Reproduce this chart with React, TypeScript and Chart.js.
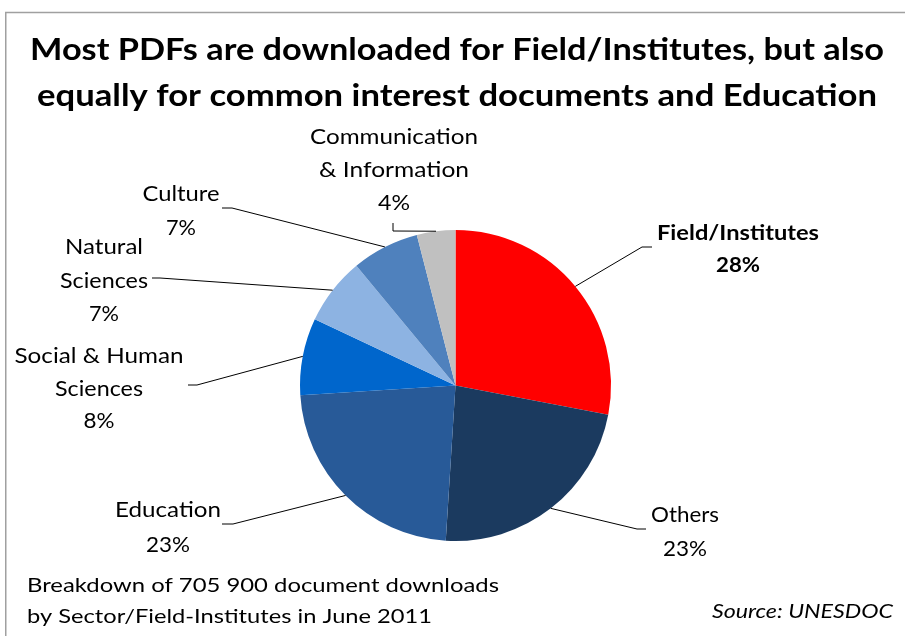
import React, { useEffect, useRef } from "react";
import { Chart, registerables } from "chart.js";

Chart.register(...registerables);

const categories = [
  "Field/Institutes",
  "Others",
  "Education",
  "Social & Human Sciences",
  "Natural Sciences",
  "Culture",
  "Communication & Information",
];
const shares = [28, 23, 23, 8, 7, 7, 4];
const sliceColors = ["#ff0000", "#1b3a5f", "#285a98", "#0066cc", "#8db3e2", "#4f81bd", "#c0c0c0"];

const titleLines = [
  "Most PDFs are downloaded for Field/Institutes, but also",
  "equally for common interest documents and Education",
];
const noteLines = [
  "Breakdown of 705 900 document downloads",
  "by Sector/Field-Institutes in June 2011",
];
const sourceText = "Source: UNESDOC";

// label text lines per slice (name lines + percent)
const labelNameLines = [
  ["Field/Institutes"],
  ["Others"],
  ["Education"],
  ["Social & Human", "Sciences"],
  ["Natural", "Sciences"],
  ["Culture"],
  ["Communication", "& Information"],
];

// layout of labels (positions only)
const labelLayout = [
  { cx: 738, ys: [233, 265], widths: [162, 44], bold: true, leader: [[652, 247], [642, 247]] },
  { cx: 685, ys: [515, 549], widths: [68, 44], bold: false, leader: [[646, 529], [637, 529]] },
  { cx: 168, ys: [510, 545], widths: [106, 44], bold: false, leader: [[222, 524], [233, 524]] },
  { cx: 99, ys: [356, 389, 421], widths: [169, 88, 31], bold: false, leader: [[188, 385], [197, 385]] },
  { cx: 104, ys: [247, 281, 314], widths: [78, 88, 30], bold: false, leader: [[152, 278], [160, 278]] },
  { cx: 181, ys: [194, 228], widths: [77, 30], bold: false, leader: [[222, 208], [232, 208]] },
  { cx: 394, ys: [137, 170, 203], widths: [168, 150, 32], bold: false, leader: [[393, 223], [393, 231]] },
];

function fitText(ctx: CanvasRenderingContext2D, text: string, x: number, y: number, targetW: number) {
  const w = ctx.measureText(text).width;
  const s = w > 0 ? targetW / w : 1;
  ctx.save();
  ctx.translate(x, y);
  ctx.scale(s, 1);
  ctx.fillText(text, 0, 0);
  ctx.restore();
}

const decorPlugin = {
  id: "decor",
  afterDraw(chart: any) {
    const ctx: CanvasRenderingContext2D = chart.ctx;
    ctx.save();
    // frame
    ctx.strokeStyle = "#a0a0a0";
    ctx.lineWidth = 1.5;
    ctx.beginPath();
    ctx.moveTo(5.75, 640);
    ctx.lineTo(5.75, 12.5);
    ctx.lineTo(910, 12.5);
    ctx.stroke();

    // title
    ctx.fillStyle = "#000000";
    ctx.textAlign = "center";
    ctx.textBaseline = "alphabetic";
    ctx.font = "bold 30px Lato";
    fitText(ctx, titleLines[0], 457, 60, 854);
    fitText(ctx, titleLines[1], 457, 106, 840);

    // labels + leaders
    const meta = chart.getDatasetMeta(0);
    meta.data.forEach((arc: any, i: number) => {
      const L = labelLayout[i];
      const mid = (arc.startAngle + arc.endAngle) / 2;
      const px = arc.x + Math.cos(mid) * arc.outerRadius;
      const py = arc.y + Math.sin(mid) * arc.outerRadius;
      ctx.strokeStyle = "#000000";
      ctx.lineWidth = 1;
      ctx.beginPath();
      ctx.moveTo(L.leader[0][0], L.leader[0][1]);
      ctx.lineTo(L.leader[1][0], L.leader[1][1]);
      ctx.lineTo(px, py);
      ctx.stroke();

      const lines = [...labelNameLines[i], shares[i] + "%"];
      ctx.font = (L.bold ? "bold " : "") + "21px Lato";
      ctx.textAlign = "center";
      ctx.textBaseline = "middle";
      ctx.fillStyle = "#000000";
      lines.forEach((t, j) => fitText(ctx, t, L.cx, L.ys[j], L.widths[j]));
    });

    // notes
    ctx.font = "20px Lato";
    ctx.textAlign = "left";
    ctx.textBaseline = "middle";
    fitText(ctx, noteLines[0], 27, 586, 472);
    fitText(ctx, noteLines[1], 27, 617, 405);
    ctx.font = "italic 20px Lato";
    ctx.textAlign = "right";
    fitText(ctx, sourceText, 893, 612, 181);
    ctx.restore();
  },
};

export default function App() {
  const ref = useRef<HTMLCanvasElement | null>(null);
  useEffect(() => {
    if (!ref.current) return;
    const chart = new Chart(ref.current, {
      type: "pie",
      data: {
        labels: categories,
        datasets: [
          {
            data: shares,
            backgroundColor: sliceColors,
            borderWidth: 0,
          },
        ],
      },
      options: {
        responsive: false,
        animation: false,
        layout: { padding: { left: 300, right: 294, top: 230, bottom: 95 } },
        plugins: {
          legend: { display: false },
          tooltip: { enabled: false },
          title: { display: false },
        },
      },
      plugins: [decorPlugin],
    });
    return () => chart.destroy();
  }, []);
  return (
    <div style={{ position: "fixed", left: 0, top: 0, width: 905, height: 636, background: "#ffffff" }}>
      <canvas ref={ref} width={905} height={636} style={{ display: "block" }} />
    </div>
  );
}
